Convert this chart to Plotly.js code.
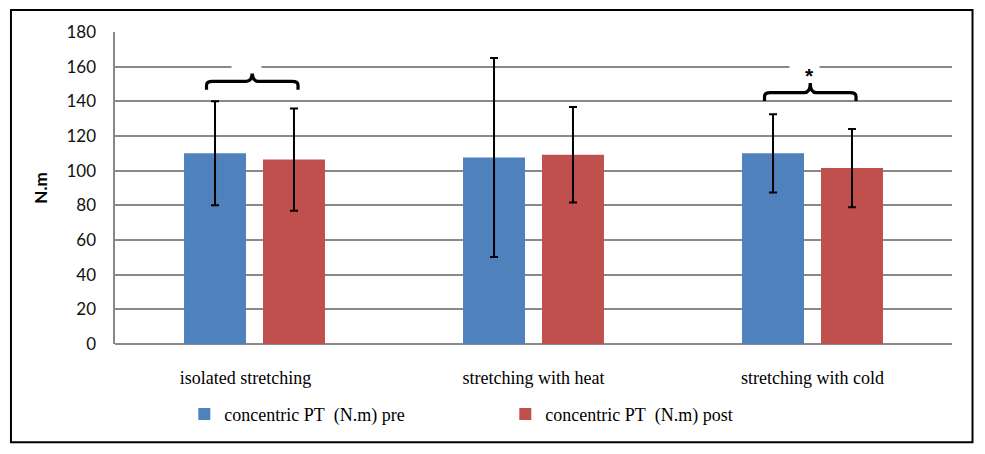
<!DOCTYPE html>
<html>
<head>
<meta charset="utf-8">
<script src="https://cdn.plot.ly/plotly-3.0.1.min.js"></script>
<style>html,body{margin:0;padding:0;background:#fff;}#chart{width:985px;height:454px;}</style>
</head>
<body>
<div id="chart"></div>
<script>
// ---- data ----
var categories = ["isolated stretching", "stretching with heat", "stretching with cold"];
var preMean = [110, 107.6, 110];
var preSD = [30, 57.4, 22.6];
var postMean = [106.4, 109.2, 101.5];
var postSD = [29.5, 27.6, 22.6];
var seriesNames = ["concentric PT\u00a0\u00a0(N.m) pre", "concentric PT\u00a0\u00a0(N.m) post"];
var yTicks = [0, 20, 40, 60, 80, 100, 120, 140, 160, 180];
var bracketCats = [0, 2];
var bracketY = [151.5, 145];
var bracketLabels = ["", "*"];

var idx = categories.map(function (c, i) { return i; });
// first label sits slightly left of its group in the original
var tickPad = ["\u00a0\u00a0\u00a0\u00a0", "", ""];
var tickText = categories.map(function (c, i) { return c + tickPad[i]; });

var errStyle = {type: 'data', visible: true, color: '#000', thickness: 2, width: 4};

var tracePre = {
  type: 'bar', name: seriesNames[0], x: idx, y: preMean,
  marker: {color: '#4F81BD'},
  error_y: Object.assign({array: preSD}, errStyle)
};
var tracePost = {
  type: 'bar', name: seriesNames[1], x: idx, y: postMean,
  marker: {color: '#C0504D'},
  error_y: Object.assign({array: postSD}, errStyle)
};

// brackets
var shapes = [];
var annotations = [];
var hw = 0.164, rx = 0.022, ry = 2.2, drop = 4.8, rise = 5.6;
bracketCats.forEach(function (c, k) {
  var yb = bracketY[k];
  var xl = c - hw - 0.008, xr = c + hw - 0.008, xm = c - 0.008;
  var p = 'M' + xl + ',' + (yb - drop) +
    ' L' + xl + ',' + (yb - ry) +
    ' Q' + xl + ',' + yb + ' ' + (xl + rx) + ',' + yb +
    ' L' + (xm - rx) + ',' + yb +
    ' Q' + xm + ',' + yb + ' ' + xm + ',' + (yb + rise) +
    ' Q' + xm + ',' + yb + ' ' + (xm + rx) + ',' + yb +
    ' L' + (xr - rx) + ',' + yb +
    ' Q' + xr + ',' + yb + ' ' + xr + ',' + (yb - ry) +
    ' L' + xr + ',' + (yb - drop);
  shapes.push({type: 'path', xref: 'x', yref: 'y', path: p,
    line: {color: '#000', width: 3.2}, layer: 'above'});
  // white label box interrupting the gridline
  annotations.push({
    xref: 'x', yref: 'y', x: c - 0.028, y: 160, xanchor: 'center', yanchor: 'middle',
    text: '\u00a0', showarrow: false, bgcolor: '#fff', width: 27, height: 10,
    font: {family: 'Liberation Sans, sans-serif', size: 8, color: '#000'}
  });
  if (bracketLabels[k]) {
    annotations.push({
      xref: 'x', yref: 'y', x: c - 0.009, y: 160, xanchor: 'center', yanchor: 'middle',
      text: '<b>' + bracketLabels[k] + '</b>', showarrow: false, yshift: -9,
      font: {family: '"Liberation Sans", Arial, sans-serif', size: 21, color: '#000'}
    });
  }
});

// outer frame
shapes.push({type: 'rect', xref: 'paper', yref: 'paper',
  x0: -0.1243, x1: 1.0245, y0: -0.3152, y1: 1.0704,
  line: {color: '#000', width: 2}, layer: 'below'});

var layout = {
  width: 985, height: 454,
  margin: {l: 115, r: 33, t: 32, b: 109.5},
  paper_bgcolor: '#fff', plot_bgcolor: '#fff',
  barmode: 'group', bargap: 0.434, bargroupgap: 0.215,
  showlegend: true,
  legend: {orientation: 'h', x: 0.0828, xanchor: 'left', y: -0.225, yanchor: 'middle',
    font: {family: '"Liberation Serif", "Times New Roman", serif', size: 18, color: '#000'},
    entrywidth: 276, entrywidthmode: 'pixels', traceorder: 'normal'},
  xaxis: {
    type: 'linear', range: [-0.5, 2.5], tickmode: 'array', tickvals: idx, ticktext: tickText,
    showgrid: false, zeroline: false, showline: false, ticks: '',
    ticklabelstandoff: 21,
    tickfont: {family: '"Liberation Serif", "Times New Roman", serif', size: 18, color: '#000'}
  },
  yaxis: {
    range: [0, 180], tickmode: 'array', tickvals: yTicks,
    showgrid: true, gridcolor: '#898989', gridwidth: 1.8,
    zeroline: true, zerolinecolor: '#898989', zerolinewidth: 1.8,
    showline: true, linecolor: '#898989', linewidth: 1.6,
    ticks: '', ticklabelstandoff: 14,
    tickfont: {family: 'Lato, "Open Sans", sans-serif', size: 17, color: '#111'},
    title: {text: '<b>N.m</b>', standoff: 14,
      font: {family: 'Lato, "Open Sans", sans-serif', size: 17, color: '#000'}}
  },
  shapes: shapes,
  annotations: annotations
};

Plotly.newPlot('chart', [tracePre, tracePost], layout, {displayModeBar: false, staticPlot: true});
</script>
</body>
</html>
